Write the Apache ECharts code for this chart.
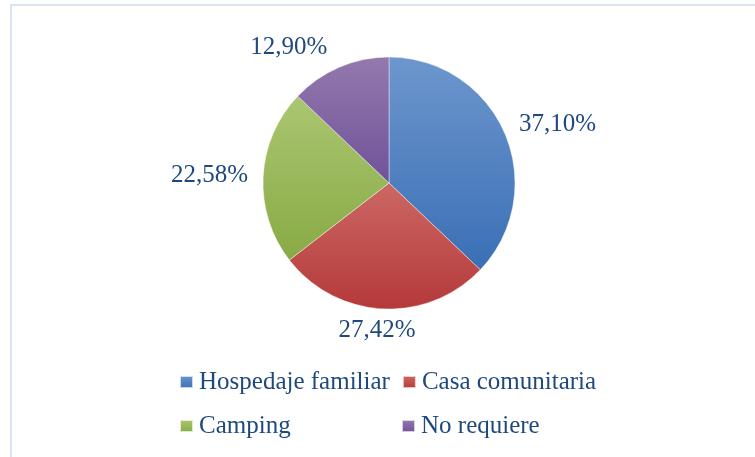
<!DOCTYPE html>
<html>
<head>
<meta charset="utf-8">
<script src="https://cdn.jsdelivr.net/npm/echarts@6/dist/echarts.min.js"></script>
<style>html,body{margin:0;padding:0;background:#fff;}#c{width:755px;height:457px;}</style>
</head>
<body>
<div id="c"></div>
<script>
const categories = ['Hospedaje familiar', 'Casa comunitaria', 'Camping', 'No requiere'];
const values = [37.10, 27.42, 22.58, 12.90];
const labelTexts = ['37,10%', '27,42%', '22,58%', '12,90%'];
const colorsTop = ['#6d96cd', '#cc6864', '#abc671', '#9479ad'];
const colorsBottom = ['#3a6fb5', '#b5393a', '#88aa45', '#70529a'];

const FONT = 'Liberation Serif';
const TXT = '#1f497d';
const total = values.reduce((a, b) => a + b, 0);

const chart = echarts.init(document.getElementById('c'), null, {renderer: 'canvas'});
const data = categories.map((name, i) => ({
  name: name,
  value: values[i],
  itemStyle: {
    color: new echarts.graphic.LinearGradient(0, 0, 0, 1, [
      {offset: 0, color: colorsTop[i]},
      {offset: 1, color: colorsBottom[i]}
    ])
  }
}));

chart.setOption({
  animation: false,
  graphic: [{
    type: 'rect',
    shape: {x: 11, y: 5, width: 800, height: 500},
    style: {fill: 'none', stroke: '#d9e5f3', lineWidth: 2}
  }],
  legend: {
    left: 179,
    top: 366,
    padding: 0,
    width: 480,
    itemWidth: 13,
    itemHeight: 12,
    itemGap: 12,
    icon: 'rect',
    data: categories,
    textStyle: {
      fontFamily: FONT,
      fontSize: 25,
      color: TXT,
      width: 190,
      height: 32,
      lineHeight: 32,
      overflow: 'none',
      padding: [0, 0, 0, 1]
    }
  },
  series: [{
    type: 'pie',
    center: [389, 183],
    radius: 126,
    startAngle: 90,
    clockwise: true,
    data: data,
    itemStyle: {borderColor: 'rgba(255,255,255,0.7)', borderWidth: 0.6},
    emphasis: {disabled: true},
    label: {
      show: true,
      position: 'outside',
      formatter: p => labelTexts[p.dataIndex],
      fontFamily: FONT,
      fontSize: 25,
      color: TXT
    },
    labelLine: {show: false, length: 10, length2: 0},
    labelLayout: function (params) {
      const i = params.dataIndex;
      let before = 0;
      for (let k = 0; k < i; k++) before += values[k];
      const mid = (before + values[i] / 2) / total * Math.PI * 2;
      const dirX = Math.sin(mid);
      const dirY = -Math.cos(mid);
      const out = {dy: dirY * 12};
      if (Math.abs(dirX) < 0.2) {
        out.dx = params.labelRect.width / 2;
      } else if (Math.abs(dirY) > 0.8) {
        out.dx = dirX * 8;
      }
      return out;
    }
  }]
});
</script>
</body>
</html>
